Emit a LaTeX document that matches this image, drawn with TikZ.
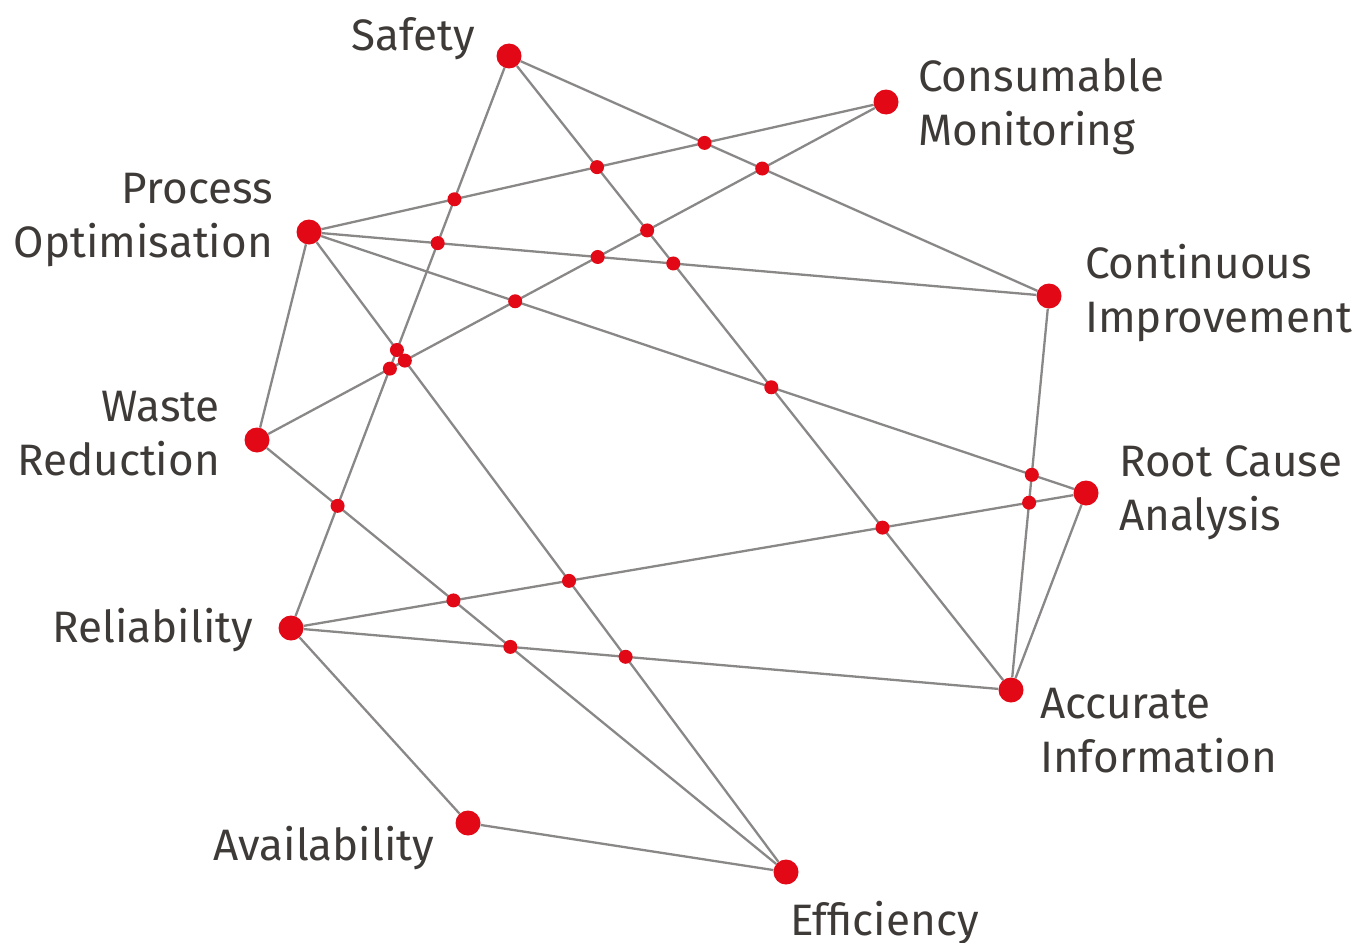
\documentclass[tikz,border=0pt]{standalone}
\usepackage{fontspec}
\setmainfont{Fira Sans}
\usepackage{xcolor}
\usetikzlibrary{positioning, calc}

\definecolor{dotred}{RGB}{226,8,22}
\definecolor{linkgray}{RGB}{138,135,135}
\definecolor{labelgray}{RGB}{62,58,56}

\begin{document}
\begin{tikzpicture}[
    x=1pt, y=-1pt,
    hub/.style={
        circle, fill=dotred, inner sep=0pt, minimum size=25pt
    },
    cross/.style={
        circle, fill=dotred, inner sep=0pt, minimum size=14pt
    },
    link/.style={draw=linkgray, line width=2.3pt},
    lbl/.style={
        inner sep=0pt, text=labelgray,
        font=\fontsize{44}{54}\selectfont
    },
    lblL/.style={lbl, align=right, anchor=base east},
    lblR/.style={lbl, align=left, anchor=base west}
]
\useasboundingbox (0,0) rectangle (1362,942);

% Main topics
\node[hub] (safety) at (509,56) {};
\node[hub] (consum) at (886,102) {};
\node[hub] (procopt) at (309,232) {};
\node[hub] (contimp) at (1049,296) {};
\node[hub] (waste) at (257,440) {};
\node[hub] (rootca) at (1086,493) {};
\node[hub] (reliab) at (291,628) {};
\node[hub] (accinf) at (1011,690) {};
\node[hub] (avail) at (468,823) {};
\node[hub] (effic) at (786,872) {};

% Labels (base = last line)
\node[lblL] (l-safety) at (475,51) {Safety};
\node[lblR] (l-consum) at (918,145) {Consumable\\Monitoring};
\node[lblL] (l-procopt) at (273,257) {Process\\Optimisation};
\node[lblR] (l-contimp) at (1085,332) {Continuous\\Improvement};
\node[lblL] (l-waste) at (220,475) {Waste\\Reduction};
\node[lblR] (l-rootca) at (1119,530) {Root Cause\\Analysis};
\node[lblL] (l-reliab) at (253,642) {Reliability};
\node[lblR] (l-accinf) at (1040,772) {Accurate\\Information};
\node[lblL] (l-avail) at (434,860) {Availability};
\node[lblR] (l-effic) at (790,935) {Efficiency};

% Links
\draw[link] (safety) -- (contimp);
\draw[link] (safety) -- (accinf);
\draw[link] (safety) -- (reliab);
\draw[link] (consum) -- (procopt);
\draw[link] (consum) -- (waste);
\draw[link] (procopt) -- (contimp);
\draw[link] (procopt) -- (rootca);
\draw[link] (procopt) -- (waste);
\draw[link] (procopt) -- (effic);
\draw[link] (contimp) -- (accinf);
\draw[link] (waste) -- (effic);
\draw[link] (rootca) -- (reliab);
\draw[link] (rootca) -- (accinf);
\draw[link] (reliab) -- (accinf);
\draw[link] (reliab) -- (avail);
\draw[link] (avail) -- (effic);

% Crossings
\node[cross] (x1) at (intersection of safety--contimp and consum--procopt) {};
\node[cross] (x2) at (intersection of safety--contimp and consum--waste) {};
\node[cross] (x3) at (intersection of safety--accinf and consum--procopt) {};
\node[cross] (x4) at (intersection of safety--reliab and consum--procopt) {};
\node[cross] (x5) at (intersection of safety--accinf and consum--waste) {};
\node[cross] (x6) at (intersection of safety--reliab and procopt--contimp) {};
\node[cross] (x7) at (intersection of consum--waste and procopt--contimp) {};
\node[cross] (x8) at (intersection of safety--accinf and procopt--contimp) {};
\node[cross] (x9) at (intersection of consum--waste and procopt--rootca) {};
\node[cross] (x10) at (intersection of safety--reliab and procopt--effic) {};
\node[cross] (x11) at (intersection of consum--waste and procopt--effic) {};
\node[cross] (x12) at (intersection of consum--waste and safety--reliab) {};
\node[cross] (x13) at (intersection of safety--accinf and procopt--rootca) {};
\node[cross] (x14) at (intersection of procopt--rootca and contimp--accinf) {};
\node[cross] (x15) at (intersection of rootca--reliab and contimp--accinf) {};
\node[cross] (x16) at (intersection of rootca--reliab and safety--accinf) {};
\node[cross] (x17) at (intersection of safety--reliab and waste--effic) {};
\node[cross] (x18) at (intersection of rootca--reliab and procopt--effic) {};
\node[cross] (x19) at (intersection of rootca--reliab and waste--effic) {};
\node[cross] (x20) at (intersection of reliab--accinf and waste--effic) {};
\node[cross] (x21) at (intersection of reliab--accinf and procopt--effic) {};

\end{tikzpicture}
\end{document}
